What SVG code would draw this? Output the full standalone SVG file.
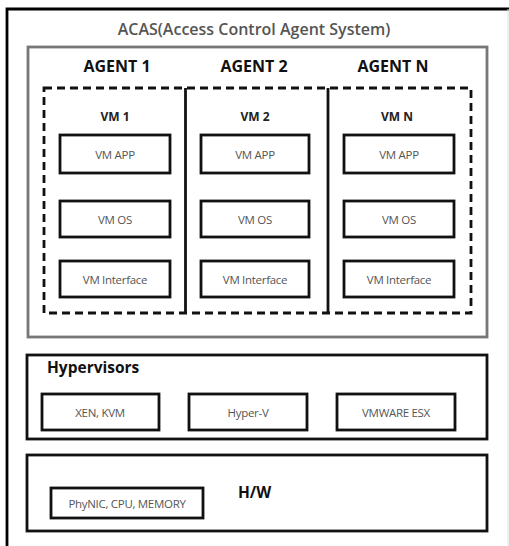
<svg xmlns="http://www.w3.org/2000/svg" width="509" height="546" viewBox="0 0 509 546">
  <style>
    .box { fill: #fff; stroke: #111; stroke-width: 2.8; }
    .lbl { font-family: "Open Sans", "Noto Sans", "DejaVu Sans", sans-serif; font-size: 11.5px; fill: #555; text-anchor: middle; dominant-baseline: central; letter-spacing: -0.3px; }
    .agent { font-family: "Open Sans", "Noto Sans", sans-serif; font-size: 16px; font-weight: bold; fill: #111; text-anchor: middle; }
    .vm { font-family: "Open Sans", "Noto Sans", sans-serif; font-size: 12px; font-weight: bold; fill: #222; text-anchor: middle; }
    .head { font-family: "Open Sans", "Noto Sans", sans-serif; font-size: 15.5px; font-weight: bold; fill: #111; }
  </style>
  <rect width="509" height="546" fill="#fff"/>
  <!-- outer frame -->
  <path d="M7 546 V9 H509" fill="none" stroke="#000" stroke-width="2.8"/>
  <line x1="508" y1="9" x2="508" y2="546" stroke="#ddd" stroke-width="1"/>

  <!-- ACAS layer -->
  <g id="acas">
    <text x="254" y="35" text-anchor="middle" font-family="Open Sans, Noto Sans, sans-serif" font-size="16" font-weight="600" fill="#555">ACAS(Access Control Agent System)</text>
    <rect x="28" y="47" width="459" height="290" fill="none" stroke="#777" stroke-width="2.8"/>
    <rect x="44" y="88" width="427" height="225" fill="none" stroke="#111" stroke-width="2.8" stroke-dasharray="8,5"/>
    <line x1="185.5" y1="88" x2="185.5" y2="313" stroke="#111" stroke-width="2.8"/>
    <line x1="328" y1="88" x2="328" y2="313" stroke="#111" stroke-width="2.8"/>
  </g>

  <g id="agent1">
    <text class="agent" x="117" y="72">AGENT 1</text>
    <text class="vm" x="115" y="121">VM 1</text>
    <g id="agent1-app"><rect class="box" x="60" y="135" width="110" height="38"/><text class="lbl" x="115" y="154">VM APP</text></g>
    <g id="agent1-os"><rect class="box" x="60" y="201" width="110" height="36"/><text class="lbl" x="115" y="219">VM OS</text></g>
    <g id="agent1-if"><rect class="box" x="60" y="261" width="110" height="36"/><text class="lbl" x="115" y="279">VM Interface</text></g>
  </g>

  <g id="agent2">
    <text class="agent" x="254" y="72">AGENT 2</text>
    <text class="vm" x="255" y="121">VM 2</text>
    <g id="agent2-app"><rect class="box" x="201" y="135" width="108" height="38"/><text class="lbl" x="255" y="154">VM APP</text></g>
    <g id="agent2-os"><rect class="box" x="201" y="201" width="108" height="36"/><text class="lbl" x="255" y="219">VM OS</text></g>
    <g id="agent2-if"><rect class="box" x="201" y="261" width="108" height="36"/><text class="lbl" x="255" y="279">VM Interface</text></g>
  </g>

  <g id="agentN">
    <text class="agent" x="393" y="72">AGENT N</text>
    <text class="vm" x="397" y="121">VM N</text>
    <g id="agentN-app"><rect class="box" x="344" y="135" width="110" height="38"/><text class="lbl" x="399" y="154">VM APP</text></g>
    <g id="agentN-os"><rect class="box" x="344" y="201" width="110" height="36"/><text class="lbl" x="399" y="219">VM OS</text></g>
    <g id="agentN-if"><rect class="box" x="344" y="261" width="110" height="36"/><text class="lbl" x="399" y="279">VM Interface</text></g>
  </g>

  <!-- hypervisor layer -->
  <g id="hypervisors">
    <rect class="box" x="27" y="355" width="460" height="84"/>
    <text class="head" x="47" y="373">Hypervisors</text>
    <g id="xen"><rect class="box" x="42" y="394" width="117" height="36"/><text class="lbl" x="100" y="412">XEN, KVM</text></g>
    <g id="hyperv"><rect class="box" x="189" y="394" width="118" height="36"/><text class="lbl" x="248" y="412">Hyper-V</text></g>
    <g id="esx"><rect class="box" x="337" y="394" width="118" height="36"/><text class="lbl" x="396" y="412">VMWARE ESX</text></g>
  </g>

  <!-- hardware layer -->
  <g id="hw">
    <rect class="box" x="27" y="455" width="460" height="76"/>
    <text class="head" x="238" y="498" font-size="16">H/W</text>
    <g id="phy"><rect class="box" x="51" y="488" width="152" height="30"/><text class="lbl" x="127" y="503">PhyNIC, CPU, MEMORY</text></g>
  </g>

  <!-- no connectors in this layered diagram -->
  <g id="connectors"/>
</svg>
